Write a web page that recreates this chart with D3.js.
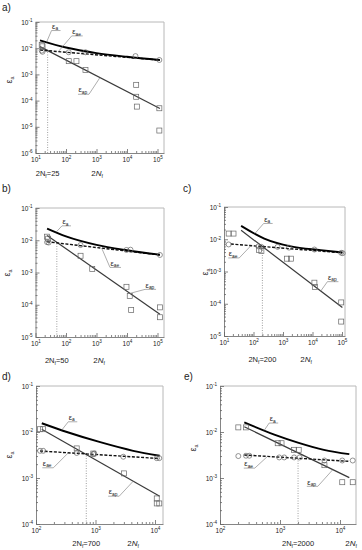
<!DOCTYPE html>
<html>
<head>
<meta charset="utf-8">
<script src="https://cdn.jsdelivr.net/npm/d3@7"></script>
<style>
  body { margin: 0; background: #fff; }
  svg text { font-family: "Liberation Sans", Arial, sans-serif; fill: #222; }
</style>
</head>
<body>
<div id="chart"></div>
<script>
// transition life for every panel
const transitionN = [25, 50, 200, 700, 2000];
const transitionEps = [9e-3, 8.6e-3, 6.2e-3, 3.5e-3, 2.8e-3];

// a)
const aSquares = [[16,1.32e-2],[17,1.18e-2],[123,3.2e-3],[220,3.2e-3],[435,1.48e-3],[2.0e4,4.0e-4],[2.0e4,1.4e-4],[2.1e4,5.9e-5],[1.15e5,5.1e-5],[1.15e5,7.2e-6]];
const aCircles = [[16,8.1e-3],[17,7.3e-3],[123,7.0e-3],[435,7.0e-3],[1.9e4,5.0e-3],[1.15e5,3.55e-3]];
const aElastic = [[14,8.5e-3],[1.2e5,3.5e-3]];
const aPlastic = [[14,1.15e-2],[1.2e5,5.0e-5]];
const aTotal = [[14,2.0e-2],[100,1.06e-2],[1000,6.5e-3],[1e4,4.7e-3],[1.2e5,3.55e-3]];

// b)
const bSquares = [[24,1.29e-2],[26,1.12e-2],[300,3.3e-3],[725,1.29e-3],[9600,3.6e-4],[1.23e4,1.87e-4],[1.37e4,6.9e-5],[1.2e5,8.3e-5],[1.2e5,4.1e-5]];
const bCircles = [[24,8.7e-3],[27,8.5e-3],[300,7.1e-3],[9600,5.0e-3],[1.3e4,5.1e-3],[1.2e5,3.5e-3]];
const bElastic = [[24,9.0e-3],[1.2e5,3.5e-3]];
const bPlastic = [[24,1.4e-2],[1.2e5,5.1e-5]];
const bTotal = [[24,2.3e-2],[100,1.32e-2],[1000,7.2e-3],[1e4,4.9e-3],[1.2e5,3.55e-3]];

// c)
const cSquares = [[14.4,1.5e-2],[21,1.5e-2],[154,4.7e-3],[185,4.3e-3],[1350,2.5e-3],[1850,2.5e-3],[1.16e4,4.5e-4],[1.2e4,3.3e-4],[9.4e4,1.1e-4],[9.4e4,2.8e-5]];
const cCircles = [[14.4,6.9e-3],[146,6.0e-3],[185,5.8e-3],[655,5.8e-3],[1600,5.5e-3],[1.16e4,4.8e-3],[9.4e4,3.8e-3],[1.06e5,3.7e-3]];
const cElastic = [[17,7.1e-3],[1.03e5,3.8e-3]];
const cPlastic = [[38,1.9e-2],[1.03e5,7.6e-5]];
const cTotal = [[38,2.6e-2],[232,1.05e-2],[1850,6.0e-3],[1.9e4,4.6e-3],[1.03e5,3.9e-3]];

// d)
const dSquares = [[117,1.15e-2],[132,1.15e-2],[483,4.4e-3],[920,3.4e-3],[3000,1.26e-3],[1.07e4,3.6e-4],[1.07e4,2.8e-4],[1.18e4,2.8e-4]];
const dCircles = [[117,3.9e-3],[132,3.9e-3],[483,3.5e-3],[920,3.3e-3],[950,3.4e-3],[2930,2.9e-3],[1.07e4,2.7e-3],[1.18e4,2.7e-3]];
const dElastic = [[117,3.86e-3],[1.2e4,2.65e-3]];
const dPlastic = [[125,1.15e-2],[1.2e4,4.0e-4]];
const dTotal = [[125,1.55e-2],[330,1.0e-2],[1200,6.0e-3],[4300,3.9e-3],[1.2e4,3.05e-3]];

// e)
const eSquares = [[202,1.26e-2],[271,1.26e-2],[916,5.7e-3],[1060,5.7e-3],[1718,4.1e-3],[2050,4.1e-3],[5500,1.9e-3],[1.09e4,8.1e-4],[1.63e4,8.1e-4]];
const eCircles = [[202,3.0e-3],[271,3.05e-3],[308,3.05e-3],[970,2.8e-3],[1175,2.8e-3],[1718,2.8e-3],[2120,2.8e-3],[5500,2.4e-3],[1.09e4,2.4e-3],[1.63e4,2.4e-3]];
const eElastic = [[254,3.16e-3],[1.43e4,2.3e-3]];
const ePlastic = [[254,1.3e-2],[1.43e4,1.02e-3]];
const eTotal = [[254,1.62e-2],[804,8.8e-3],[1987,5.9e-3],[5390,4.1e-3],[1.43e4,3.3e-3]];

const series = [
  {sq: aSquares, ci: aCircles, el: aElastic, pl: aPlastic, tot: aTotal},
  {sq: bSquares, ci: bCircles, el: bElastic, pl: bPlastic, tot: bTotal},
  {sq: cSquares, ci: cCircles, el: cElastic, pl: cPlastic, tot: cTotal},
  {sq: dSquares, ci: dCircles, el: dElastic, pl: dPlastic, tot: dTotal},
  {sq: eSquares, ci: eCircles, el: eElastic, pl: ePlastic, tot: eTotal}
];

// pixel layout of the five panels
const layouts = [
  {name:"a)", lx:2, ly:11, x0:35.5, dec:30.5, xMinE:1, xMaxE:5, xEnd:164, top:22, bottom:153, yMinE:-6, yMaxE:-1, ytX:12, ytY:80, titleX:97, tY:23,
   notes:[{c:"tot", at:23, dx:5, dy:-11.6, dir:1, s:"a"}, {c:"el", at:56, dx:13.4, dy:-15.7, dir:1, s:"ae"}, {c:"pl", at:1300, dx:-11, dy:16.7, dir:-1, s:"ap"}]},
  {name:"b)", lx:2, ly:192, x0:35.5, dec:30.5, xMinE:1, xMaxE:5, xEnd:164, top:208, bottom:337, yMinE:-5, yMaxE:-1, ytX:10, ytY:273, titleX:99, tY:26,
   notes:[{c:"tot", at:47, dx:6, dy:-6.4, dir:1, s:"a"}, {c:"el", at:1480, dx:8.3, dy:19.3, dir:1, s:"ae"}, {c:"pl", at:1.26e4, dx:15, dy:-4, dir:1, s:"ap"}]},
  {name:"c)", lx:183, ly:192, x0:224, dec:29.5, xMinE:1, xMaxE:5, xEnd:345, top:207, bottom:336, yMinE:-5, yMaxE:-1, ytX:208, ytY:272, titleX:306, tY:26,
   notes:[{c:"tot", at:112, dx:8.7, dy:-10, dir:1, s:"a"}, {c:"el", at:82, dx:-11.7, dy:12.3, dir:-1, s:"ae"}, {c:"pl", at:1.9e4, dx:6.7, dy:-9.4, dir:1, s:"ap"}]},
  {name:"d)", lx:2, ly:380, x0:36, dec:59.5, xMinE:2, xMaxE:4, xEnd:163, top:386, bottom:524, yMinE:-4, yMaxE:-1, ytX:12, ytY:455, titleX:133, tY:22,
   notes:[{c:"tot", at:270, dx:6.6, dy:-8.4, dir:1, s:"a"}, {c:"el", at:350, dx:-15, dy:15, dir:-1, s:"ae"}, {c:"pl", at:4300, dx:-14, dy:15, dir:-1, s:"ap"}]},
  {name:"e)", lx:184, ly:380, x0:220, dec:60, xMinE:2, xMaxE:4, xEnd:356, top:386, bottom:524, yMinE:-4, yMaxE:-1, ytX:196, ytY:448, titleX:351, tY:22,
   notes:[{c:"tot", at:545, dx:5, dy:-7.4, dir:1, s:"a"}, {c:"el", at:619, dx:-12.7, dy:11.7, dir:-1, s:"ae"}, {c:"pl", at:7590, dx:-15, dy:16.7, dir:-1, s:"ap"}]}
];

const svg = d3.select("#chart").append("svg")
  .attr("width", 362)
  .attr("height", 550);

function supLabel(t, v) {
  const e = Math.round(Math.log10(v));
  t.text(null);
  t.append("tspan").text("10");
  t.append("tspan").attr("dy", "-0.5em").attr("font-size", "4.6px").text(e);
}

// point on a curve, interpolated in log-log space (for label leaders)
function onCurve(pts, xv) {
  const lx = Math.log10(xv);
  for (let k = 0; k < pts.length - 1; k++) {
    const la = Math.log10(pts[k][0]), lb = Math.log10(pts[k + 1][0]);
    if (lx >= la && lx <= lb) {
      const t = (lx - la) / (lb - la);
      return 10 ** (Math.log10(pts[k][1]) + t * (Math.log10(pts[k + 1][1]) - Math.log10(pts[k][1])));
    }
  }
  return pts[pts.length - 1][1];
}

function nf(t, tail) {
  t.append("tspan").text("2N");
  t.append("tspan").attr("font-size", "5px").attr("dy", 2).text("f");
  if (tail) t.append("tspan").attr("dy", -2).text(tail);
}

layouts.forEach((L, i) => {
  const S = series[i];
  const xEndE = L.xMinE + (L.xEnd - L.x0) / L.dec;
  const x = d3.scaleLog().domain([10 ** L.xMinE, 10 ** xEndE]).range([L.x0, L.xEnd]);
  const y = d3.scaleLog().domain([10 ** L.yMinE, 10 ** L.yMaxE]).range([L.bottom, L.top]);
  const g = svg.append("g");

  // panel letter
  g.append("text").attr("x", L.lx).attr("y", L.ly).attr("font-size", "10px").attr("fill", "#111").text(L.name);

  // frame top / right
  g.append("path")
    .attr("d", `M${L.x0},${L.top}H${L.xEnd}V${L.bottom}`)
    .attr("fill", "none").attr("stroke", "#b8b8b8").attr("stroke-width", 1);

  // tick values
  const xMaj = d3.range(L.xMinE, L.xMaxE + 1).map(e => 10 ** e);
  const xMin = [];
  d3.range(L.xMinE, Math.ceil(xEndE)).forEach(e => {
    for (let k = 2; k <= 9; k++) if (k * 10 ** e <= 10 ** xEndE) xMin.push(k * 10 ** e);
  });
  const yMaj = d3.range(L.yMinE, L.yMaxE + 1).map(e => 10 ** e);
  const yMin = [];
  d3.range(L.yMinE, L.yMaxE).forEach(e => {
    for (let k = 2; k <= 9; k++) yMin.push(k * 10 ** e);
  });

  // y axis
  const gy = g.append("g").attr("transform", `translate(${L.x0},0)`)
    .call(d3.axisLeft(y).tickValues(yMaj).tickSize(-4).tickSizeOuter(0).tickPadding(3).tickFormat(() => ""));
  gy.selectAll(".tick text").each(function(d) { supLabel(d3.select(this), d); })
    .attr("font-size", "6.5px").attr("fill", "#333");
  g.append("g").attr("transform", `translate(${L.x0},0)`)
    .call(d3.axisLeft(y).tickValues(yMin).tickSize(-2).tickSizeOuter(0).tickFormat(() => ""))
    .select(".domain").remove();

  // x axis
  const gx = g.append("g").attr("transform", `translate(0,${L.bottom})`)
    .call(d3.axisBottom(x).tickValues(xMaj).tickSize(-4).tickSizeOuter(0).tickPadding(4).tickFormat(() => ""));
  gx.selectAll(".tick text").each(function(d) { supLabel(d3.select(this), d); })
    .attr("font-size", "6.5px").attr("fill", "#333");
  g.append("g").attr("transform", `translate(0,${L.bottom})`)
    .call(d3.axisBottom(x).tickValues(xMin).tickSize(-2).tickSizeOuter(0).tickFormat(() => ""))
    .select(".domain").remove();

  g.selectAll(".domain, .tick line").attr("stroke", "#666").attr("stroke-width", 0.8);

  // axis titles
  const yt = g.append("text")
    .attr("transform", `translate(${L.ytX},${L.ytY}) rotate(-90)`)
    .attr("text-anchor", "middle").attr("font-size", "9px");
  yt.append("tspan").text("ε");
  yt.append("tspan").attr("font-size", "5.5px").attr("dy", 2).text("a");

  const xt = g.append("text").attr("x", L.titleX).attr("y", L.bottom + L.tY)
    .attr("text-anchor", "middle").attr("font-size", "8px");
  xt.append("tspan").text("2");
  xt.append("tspan").attr("font-style", "italic").text("N");
  xt.append("tspan").attr("font-size", "5px").attr("dy", 2).text("f");

  // transition life
  g.append("line")
    .attr("x1", x(transitionN[i])).attr("x2", x(transitionN[i]))
    .attr("y1", y(10 ** L.yMinE)).attr("y2", y(transitionEps[i]))
    .attr("stroke", "#888").attr("stroke-width", 0.8).attr("stroke-dasharray", "1,1.5");
  const tt = g.append("text").attr("x", x(transitionN[i])).attr("y", L.bottom + L.tY)
    .attr("text-anchor", "middle").attr("font-size", "7.5px");
  nf(tt, "=" + transitionN[i]);

  // fitted lines
  const line = d3.line().x(d => x(d[0])).y(d => y(d[1]));
  g.append("path").datum(S.pl).attr("d", line)
    .attr("fill", "none").attr("stroke", "#3a3a3a").attr("stroke-width", 1.2);
  g.append("path").datum(S.el).attr("d", line)
    .attr("fill", "none").attr("stroke", "#111").attr("stroke-width", 1.4).attr("stroke-dasharray", "3,1.6");
  g.append("path").datum(S.tot).attr("d", line.curve(d3.curveMonotoneX))
    .attr("fill", "none").attr("stroke", "#000").attr("stroke-width", 1.9);

  // measured points
  g.selectAll(null).data(S.sq).enter().append("rect")
    .attr("x", d => x(d[0]) - 2.5).attr("y", d => y(d[1]) - 2.5)
    .attr("width", 5).attr("height", 5)
    .attr("fill", "none").attr("stroke", "#666").attr("stroke-width", 0.7);
  g.selectAll(null).data(S.ci).enter().append("circle")
    .attr("cx", d => x(d[0])).attr("cy", d => y(d[1])).attr("r", 2.5)
    .attr("fill", "none").attr("stroke", "#666").attr("stroke-width", 0.7);

  // curve labels with leaders
  L.notes.forEach(n => {
    const ax = x(n.at), ay = y(onCurve(S[n.c], n.at));
    const jx = ax + n.dx, jy = ay + n.dy;
    const w = n.s === "a" ? 9 : 11;
    const ex = jx + n.dir * w;
    g.append("path")
      .attr("d", `M${ax},${ay}L${jx},${jy}H${ex}`)
      .attr("fill", "none").attr("stroke", "#777").attr("stroke-width", 0.6);
    const t = g.append("text").attr("x", Math.min(jx, ex) + 0.5).attr("y", jy - 1.8).attr("font-size", "7.5px");
    t.append("tspan").text("ε");
    t.append("tspan").attr("font-size", "4.8px").attr("dy", 1.5).text(n.s);
  });
});
</script>
</body>
</html>
